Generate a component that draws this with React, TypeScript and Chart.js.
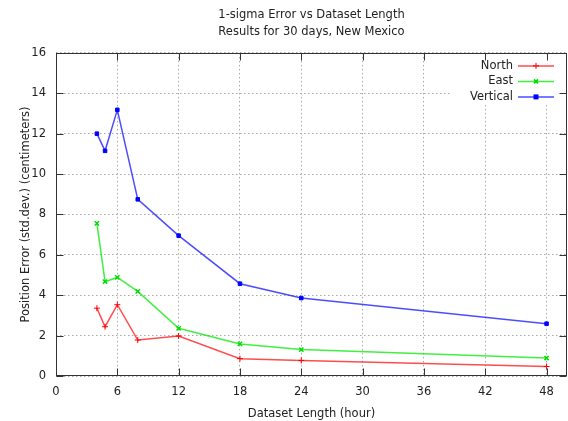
import React, { useEffect, useRef } from 'react';
import { Chart, registerables } from 'chart.js';

Chart.register(...registerables);

// ---- data ----
const hours = [4, 4.8, 6, 8, 12, 18, 24, 48];
const north = [3.36, 2.44, 3.53, 1.78, 1.98, 0.86, 0.77, 0.47];
const east = [7.56, 4.67, 4.88, 4.19, 2.36, 1.59, 1.31, 0.89];
const vertical = [12.0, 11.15, 13.18, 8.75, 6.95, 4.57, 3.86, 2.59];
const seriesNames = ['North', 'East', 'Vertical'];
const titleLines = ['1-sigma Error vs Dataset Length', 'Results for 30 days, New Mexico'];
const xTitle = 'Dataset Length (hour)';
const yTitle = 'Position Error (std.dev.) (centimeters)';
const xMin = 0;
const xMax = 50;
const xStep = 6;
const yMin = 0;
const yMax = 16;
const yStep = 2;

const FONT = '"DejaVu Sans", sans-serif';
const TEXT = '#222222';
const FRAME = '#333333';

function drawMarker(ctx: CanvasRenderingContext2D, style: string, x: number, y: number, color: string) {
  ctx.save();
  ctx.strokeStyle = color;
  ctx.fillStyle = color;
  ctx.lineWidth = 1;
  ctx.beginPath();
  if (style === 'cross') {
    ctx.moveTo(x - 3, y); ctx.lineTo(x + 3, y);
    ctx.moveTo(x, y - 3); ctx.lineTo(x, y + 3);
    ctx.stroke();
  } else if (style === 'crossRot') {
    ctx.lineWidth = 1.5;
    ctx.moveTo(x - 2, y - 2); ctx.lineTo(x + 2, y + 2);
    ctx.moveTo(x - 2, y + 2); ctx.lineTo(x + 2, y - 2);
    ctx.stroke();
  } else {
    ctx.fillRect(x - 2.5, y - 2.5, 5, 5);
  }
  ctx.restore();
}

const framePlugin = {
  id: 'gnuFrame',
  afterDraw(chart: any) {
    const { ctx, chartArea: a, scales } = chart;
    ctx.save();
    // key background
    ctx.fillStyle = '#ffffff';
    ctx.fillRect(a.right - 117, a.top + 4, 116, 48);
    // key entries
    ctx.font = `11.5px ${FONT}`;
    ctx.textAlign = 'right';
    ctx.textBaseline = 'middle';
    const rows = [13, 28.5, 44];
    chart.data.datasets.forEach((ds: any, i: number) => {
      const y = a.top + rows[i];
      ctx.fillStyle = TEXT;
      ctx.fillText(ds.label, a.right - 54, y);
      ctx.strokeStyle = ds.borderColor;
      ctx.lineWidth = 1.5;
      ctx.beginPath();
      ctx.moveTo(a.right - 49, y);
      ctx.lineTo(a.right - 13, y);
      ctx.stroke();
      drawMarker(ctx, ds.pointStyle, a.right - 31, y, ds.pointBorderColor);
    });
    // frame
    ctx.strokeStyle = FRAME;
    ctx.lineWidth = 1;
    const l = Math.round(a.left) + 0.5;
    const r = Math.round(a.right) - 0.5;
    const t = Math.round(a.top) + 0.5;
    const b = Math.round(a.bottom) - 0.5;
    ctx.strokeRect(l, t, r - l, b - t);
    // inward mirrored tics
    const tl = 7;
    ctx.beginPath();
    scales.x.ticks.forEach((tk: any) => {
      const px = Math.round(scales.x.getPixelForValue(tk.value)) + 0.5;
      ctx.moveTo(px, b); ctx.lineTo(px, b - tl);
      ctx.moveTo(px, t); ctx.lineTo(px, t + tl);
    });
    scales.y.ticks.forEach((tk: any) => {
      const py = Math.round(scales.y.getPixelForValue(tk.value)) + 0.5;
      ctx.moveTo(l, py); ctx.lineTo(l + tl, py);
      ctx.moveTo(r, py); ctx.lineTo(r - tl, py);
    });
    ctx.stroke();
    ctx.restore();
  },
};

export default function App() {
  const canvasRef = useRef<HTMLCanvasElement | null>(null);

  useEffect(() => {
    document.body.style.margin = '0';
    const canvas = canvasRef.current;
    if (!canvas) return;
    const mk = (label: string, values: number[], line: string, solid: string, style: string) => ({
      label,
      data: hours.map((h, i) => ({ x: h, y: values[i] })),
      borderColor: line,
      borderWidth: 1.5,
      pointStyle: style,
      pointRadius: style === 'rect' ? 2.5 : 3,
      pointBorderColor: solid,
      pointBackgroundColor: solid,
      pointBorderWidth: style === 'crossRot' ? 1.5 : 1,
      tension: 0,
      fill: false,
    });
    const chart = new Chart(canvas, {
      type: 'line',
      data: {
        datasets: [
          mk(seriesNames[0], north, 'rgba(255,0,0,0.7)', 'rgb(255,0,0)', 'cross'),
          mk(seriesNames[1], east, 'rgba(0,235,0,0.75)', 'rgb(0,220,0)', 'crossRot'),
          mk(seriesNames[2], vertical, 'rgba(0,0,255,0.7)', 'rgb(0,0,255)', 'rect'),
        ] as any,
      },
      options: {
        animation: false,
        responsive: false,
        devicePixelRatio: 1,
        layout: { autoPadding: false, padding: { top: 0, left: 0, right: 1, bottom: 0 } },
        plugins: {
          legend: { display: false },
          tooltip: { enabled: false },
          title: {
            display: true,
            text: titleLines,
            color: TEXT,
            fullSize: false,
            font: { family: FONT, size: 11.5, weight: 'normal', lineHeight: 1.43 },
            padding: { top: 7, bottom: 13 },
          },
        },
        scales: {
          x: {
            type: 'linear',
            min: xMin,
            max: xMax,
            ticks: {
              stepSize: xStep,
              includeBounds: false,
              color: TEXT,
              padding: 9,
              font: { family: FONT, size: 11.5 },
            },
            grid: { color: '#a8a8a8', lineWidth: 1, drawTicks: false },
            border: { display: false, dash: [1.5, 2.5] },
            title: {
              display: true,
              text: xTitle,
              color: TEXT,
              padding: { top: 0, bottom: 0 },
              font: { family: FONT, size: 11.5 },
            },
            afterFit: (s: any) => { s.height = 45; s.paddingLeft = 0; s.paddingRight = 0; },
          },
          y: {
            type: 'linear',
            min: yMin,
            max: yMax,
            ticks: {
              stepSize: yStep,
              color: TEXT,
              padding: 10,
              font: { family: FONT, size: 11.5 },
            },
            grid: { color: '#a8a8a8', lineWidth: 1, drawTicks: false },
            border: { display: false, dash: [1.5, 2.5] },
            title: {
              display: true,
              text: yTitle,
              color: TEXT,
              padding: { top: 19, bottom: 0 },
              font: { family: FONT, size: 11.5 },
            },
            afterFit: (s: any) => { s.width = 56; s.paddingTop = 0; s.paddingBottom = 0; },
          },
        },
      } as any,
      plugins: [framePlugin],
    });
    return () => chart.destroy();
  }, []);

  return (
    <div style={{ position: 'absolute', left: 0, top: 0, width: 568, height: 421 }}>
      <canvas ref={canvasRef} width={568} height={421} style={{ display: 'block' }} />
    </div>
  );
}
